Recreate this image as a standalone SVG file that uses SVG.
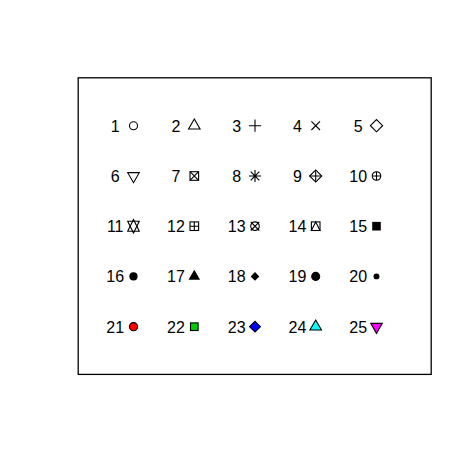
<svg xmlns="http://www.w3.org/2000/svg" width="472" height="472" viewBox="0 0 472 472">
<style>
text{font-family:"Liberation Sans",Arial,sans-serif;font-size:16px;fill:#000;text-anchor:middle}
.s{fill:none;stroke:#000;stroke-width:1.1}
.f{fill:#000;stroke:none}
.fb{fill:#000;stroke:#000;stroke-width:1.1}
.b{stroke:#000;stroke-width:1.1}
</style>
<rect x="78.2" y="77.8" width="353" height="296.6" fill="none" stroke="#000" stroke-width="1.3"/>
<g id="connectors"/>
<g id="n1" transform="translate(133.5,125.7)"><text x="-18.3" y="6">1</text><circle class="s" r="4"/></g>
<g id="n2" transform="translate(194.3,125.7)"><text x="-18.3" y="6">2</text><polygon class="s" points="0,-6.69 5.79,3.34 -5.79,3.34"/></g>
<g id="n3" transform="translate(255,125.7)"><text x="-18.3" y="6">3</text><path class="s" d="M-6.08,0H6.08M0,-6.08V6.08"/></g>
<g id="n4" transform="translate(315.7,125.7)"><text x="-18.3" y="6">4</text><path class="s" d="M-4.3,-4.3L4.3,4.3M-4.3,4.3L4.3,-4.3"/></g>
<g id="n5" transform="translate(376.5,125.7)"><text x="-18.3" y="6">5</text><polygon class="s" points="-6.08,0 0,-6.08 6.08,0 0,6.08"/></g>

<g id="n6" transform="translate(133.5,176)"><text x="-18.3" y="6">6</text><polygon class="s" points="0,6.69 5.79,-3.34 -5.79,-3.34"/></g>
<g id="n7" transform="translate(194.3,176)"><text x="-18.3" y="6">7</text><rect class="s" x="-4.3" y="-4.3" width="8.6" height="8.6"/><path class="s" d="M-4.3,-4.3L4.3,4.3M-4.3,4.3L4.3,-4.3"/></g>
<g id="n8" transform="translate(255,176)"><text x="-18.3" y="6">8</text><path class="s" d="M-4.3,-4.3L4.3,4.3M-4.3,4.3L4.3,-4.3M-6.08,0H6.08M0,-6.08V6.08"/></g>
<g id="n9" transform="translate(315.7,176)"><text x="-18.3" y="6">9</text><polygon class="s" points="-6.08,0 0,-6.08 6.08,0 0,6.08"/><path class="s" d="M-6.08,0H6.08M0,-6.08V6.08"/></g>
<g id="n10" transform="translate(376.5,176)"><text x="-18.3" y="6">10</text><circle class="s" r="4.3"/><path class="s" d="M-4.3,0H4.3M0,-4.3V4.3"/></g>

<g id="n11" transform="translate(133.5,226.2)"><text x="-18.3" y="6">11</text><polygon class="s" points="0,-6.69 5.79,5.01 -5.79,5.01"/><polygon class="s" points="0,6.69 5.79,-5.01 -5.79,-5.01"/></g>
<g id="n12" transform="translate(194.3,226.2)"><text x="-18.3" y="6">12</text><rect class="s" x="-4.3" y="-4.3" width="8.6" height="8.6"/><path class="s" d="M-4.3,0H4.3M0,-4.3V4.3"/></g>
<g id="n13" transform="translate(255,226.2)"><text x="-18.3" y="6">13</text><circle class="s" r="4.3"/><path class="s" d="M-4.3,-4.3L4.3,4.3M-4.3,4.3L4.3,-4.3"/></g>
<g id="n14" transform="translate(315.7,226.2)"><text x="-18.3" y="6">14</text><rect class="s" x="-4.3" y="-4.3" width="8.6" height="8.6"/><polygon class="s" points="0,-4.3 4.3,4.3 -4.3,4.3"/></g>
<g id="n15" transform="translate(376.5,226.2)"><text x="-18.3" y="6">15</text><rect class="f" x="-4.3" y="-4.3" width="8.6" height="8.6"/></g>

<g id="n16" transform="translate(133.5,276.4)"><text x="-18.3" y="6">16</text><circle class="f" r="4.1"/></g>
<g id="n17" transform="translate(194.3,276.4)"><text x="-18.3" y="6">17</text><polygon class="f" points="0,-6.69 5.79,3.34 -5.79,3.34"/></g>
<g id="n18" transform="translate(255,276.4)"><text x="-18.3" y="6">18</text><polygon class="f" points="-4.3,0 0,-4.3 4.3,0 0,4.3"/></g>
<g id="n19" transform="translate(315.7,276.4)"><text x="-18.3" y="6">19</text><circle class="fb" r="4"/></g>
<g id="n20" transform="translate(376.5,276.4)"><text x="-18.3" y="6">20</text><circle class="fb" r="2.4"/></g>

<g id="n21" transform="translate(133.5,326.7)"><text x="-18.3" y="6">21</text><circle class="b" fill="#FF0000" r="4.1"/></g>
<g id="n22" transform="translate(194.3,326.7)"><text x="-18.3" y="6">22</text><rect class="b" fill="#00CD00" x="-3.81" y="-3.81" width="7.62" height="7.62"/></g>
<g id="n23" transform="translate(255,326.7)"><text x="-18.3" y="6">23</text><polygon class="b" fill="#0000FF" points="-5.39,0 0,-5.39 5.39,0 0,5.39"/></g>
<g id="n24" transform="translate(315.7,326.7)"><text x="-18.3" y="6">24</text><polygon class="b" fill="#00FFFF" points="0,-6.69 5.79,3.34 -5.79,3.34"/></g>
<g id="n25" transform="translate(376.5,326.7)"><text x="-18.3" y="6">25</text><polygon class="b" fill="#FF00FF" points="0,6.69 5.79,-3.34 -5.79,-3.34"/></g>
</svg>
